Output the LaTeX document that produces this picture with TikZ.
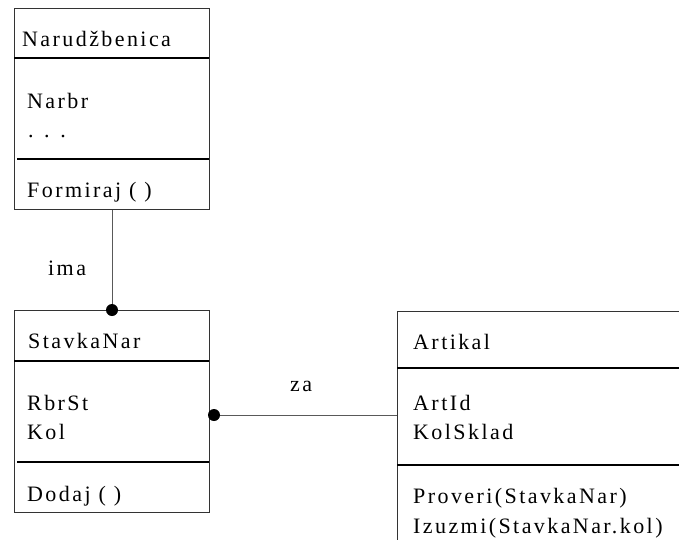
\documentclass[tikz,border=0pt]{standalone}
\usepackage{fontspec}
\setmainfont{Liberation Serif}[LetterSpace=11]
\begin{document}
\begin{tikzpicture}[x=1pt,y=-1pt,
  classbox/.style={draw=black!80,line width=1pt,rectangle,inner sep=0pt,anchor=north west},
  divider/.style={draw=black,line width=1.2pt},
  conn/.style={draw=black!65,line width=0.9pt},
  lbl/.style={anchor=base west,inner sep=0pt,font=\fontsize{22}{26}\selectfont},
  dotmark/.style={circle,fill=black,inner sep=0pt,minimum size=12pt}]
\useasboundingbox (0,0) rectangle (679,539);
\clip (0,0) rectangle (679,539);
% boxes
\node[classbox,minimum width=195pt,minimum height=201pt] (nar) at (14,8) {};
\node[classbox,minimum width=195pt,minimum height=202pt] (stav) at (14,310) {};
\node[classbox,minimum width=300pt,minimum height=260pt] (art) at (397,311) {};
% dividers
\draw[divider] (14,58) -- (209,58);
\draw[divider] (17,159) -- (209,159);
\draw[divider] (14,361) -- (209,361);
\draw[divider] (17,462) -- (209,462);
\draw[divider] (397,368) -- (679,368);
\draw[divider] (397,465) -- (679,465);
% texts
\node[lbl] (t1) at (22,46) {Narudžbenica};
\node[lbl] (t2) at (27,108) {Narbr};
\node[lbl] (t3) at (28,137) {. . .};
\node[lbl] (t4) at (27,197) {Formiraj ( )};
\node[lbl] (t5) at (28,348) {StavkaNar};
\node[lbl] (t6) at (27,410) {RbrSt};
\node[lbl] (t7) at (27,439) {Kol};
\node[lbl] (t8) at (27,501) {Dodaj ( )};
\node[lbl] (t9) at (413,349) {Artikal};
\node[lbl] (t10) at (413,410) {ArtId};
\node[lbl] (t11) at (413,439) {KolSklad};
\node[lbl] (t12) at (413,503) {Proveri(StavkaNar)};
\node[lbl] (t13) at (413,533) {Izuzmi(StavkaNar.kol)};
\node[lbl] (ima) at (48,275) {ima};
\node[lbl] (za) at (290,391) {za};
% connectors
\coordinate (s1) at (214,415);
\coordinate (a1) at (397,415);
\draw[conn] (nar.south) -- (stav.north);
\draw[conn] (s1) -- (a1);
\node[dotmark] (d1) at (stav.north) {};
\node[dotmark] (d2) at (s1) {};
\end{tikzpicture}
\end{document}
